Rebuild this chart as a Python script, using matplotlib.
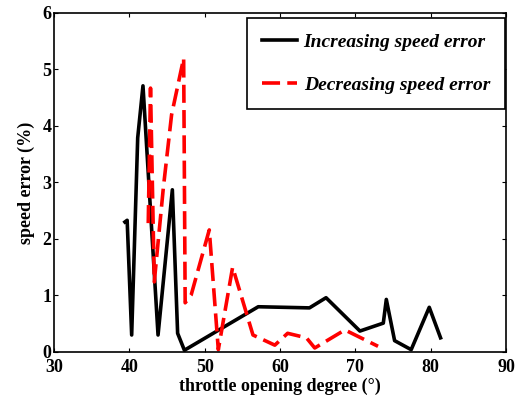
import matplotlib.pyplot as plt
import numpy as np

# increasing speed error
inc_x = [39.4, 39.7, 40.3, 41.1, 41.8, 43.8, 45.7, 46.4, 47.3, 57.1, 63.9, 66.1, 70.6, 73.7, 74.1, 75.2, 77.4, 79.8, 81.3]
inc_y = [2.30, 2.33, 0.30, 3.79, 4.71, 0.30, 2.87, 0.33, 0.03, 0.80, 0.78, 0.96, 0.37, 0.51, 0.93, 0.20, 0.04, 0.79, 0.25]

# decreasing speed error
dec_x = [42.5, 42.8, 43.3, 44.5, 45.6, 47.2, 47.4, 48.2, 50.6, 51.8, 53.7, 56.4, 59.3, 61.0, 63.5, 64.6, 68.6, 73.0]
dec_y = [2.28, 4.67, 1.24, 2.90, 4.20, 5.20, 0.87, 1.01, 2.16, 0.04, 1.50, 0.30, 0.12, 0.33, 0.25, 0.07, 0.39, 0.10]

plt.rcParams['font.family'] = 'Liberation Serif'
plt.rcParams['font.weight'] = 'bold'

fig = plt.figure(figsize=(5.25, 4.05), dpi=100)
ax = fig.add_axes([0.103, 0.131, 0.861, 0.837])

ax.plot(inc_x, inc_y, color='black', lw=2.6, label='Increasing speed error')
ax.plot(dec_x, dec_y, color='red', lw=2.6, ls=(0, (5, 2)), label='Decreasing speed error')

ax.set_xlim(30, 90)
ax.set_ylim(0, 6)
ax.set_xticks(np.arange(30, 91, 10))
ax.set_yticks(np.arange(0, 7, 1))
ax.tick_params(direction='in', length=3, labelsize=13, top=True, right=True)
ax.tick_params(axis='x', pad=5)
ax.tick_params(axis='y', pad=2)
for lbl in ax.get_xticklabels() + ax.get_yticklabels():
    lbl.set_fontweight('bold')
for s in ax.spines.values():
    s.set_linewidth(1.2)

ax.set_xlabel('throttle opening degree (°)', fontsize=13, fontweight='bold', labelpad=1)
ax.set_ylabel('speed error (%)', fontsize=13, fontweight='bold', labelpad=5)

leg = ax.legend(loc='upper right', bbox_to_anchor=(0.998, 0.985), borderaxespad=0,
                fancybox=False, edgecolor='black',
                prop={'size': 14, 'weight': 'bold', 'style': 'italic'},
                handlelength=1.8, handletextpad=0.35, labelspacing=1.3, borderpad=0.78,
                framealpha=1)
leg.get_frame().set_linewidth(1.2)

fig.savefig('out.png', dpi=100)
